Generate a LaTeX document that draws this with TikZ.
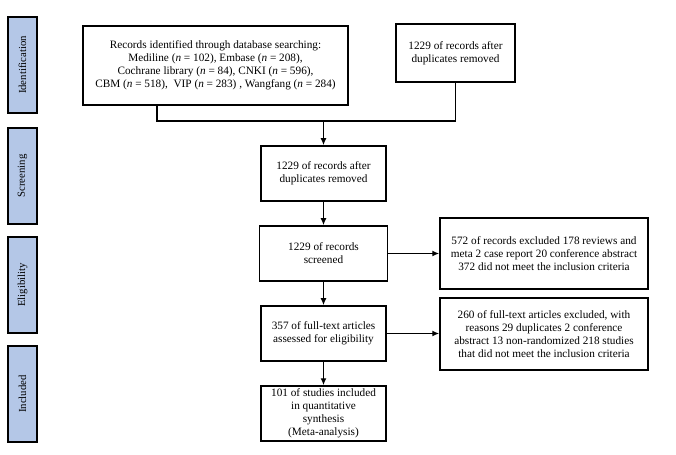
\documentclass[tikz,border=0pt]{standalone}
\usepackage{fontspec}
\setmainfont{Liberation Serif}
\usetikzlibrary{arrows.meta,calc}
\definecolor{stageblue}{HTML}{B4C7E7}
\tikzset{
  box/.style={draw, line width=1.5bp, align=center, inner sep=1bp,
    font=\fontsize{11.3}{13}\selectfont},
  stage/.style={draw, line width=1.5bp, fill=stageblue, minimum width=29bp,
    minimum height=96bp, inner sep=0pt},
  stagetext/.style={rotate=90, font=\fontsize{10.8}{12}\selectfont},
  link/.style={line width=1.5bp},
  arr/.style={line width=1.5bp, -{Latex[length=7bp,width=6bp]}}
}
\begin{document}
\begin{tikzpicture}[x=1bp,y=-1bp]
\useasboundingbox (0,0) rectangle (676,455);
% stage labels
\node[stage] (sid) at (22.5,65) {};
\node[stagetext] (tid) at (sid.center) {Identification};
\node[stage] (ssc) at (22.5,176) {};
\node[stagetext] (tsc) at (ssc.center) {Screening};
\node[stage] (sel) at (22.5,285) {};
\node[stagetext] (tel) at (sel.center) {Eligibility};
\node[stage] (sin) at (22.5,394) {};
\node[stagetext] (tin) at (sin.center) {Included};
% boxes
\node[box, minimum width=265bp, minimum height=79bp] (b1) at (215.5,65.5)
  {Records identified through database searching:\\
   Mediline (\textit{n} = 102), Embase (\textit{n} = 208),\\
   Cochrane library (\textit{n} = 84), CNKI (\textit{n} = 596),\\
   CBM (\textit{n} = 518),\ \ VIP (\textit{n} = 283) , Wangfang (\textit{n} = 284)};
\node[box, minimum width=119bp, minimum height=58bp] (b2) at (455.5,53)
  {1229 of records after\\duplicates removed};
\node[box, minimum width=125bp, minimum height=55bp] (scr) at (323.5,173.5)
  {1229 of records after\\duplicates removed};
\node[box, minimum width=128bp, minimum height=55bp] (sd) at (323.5,253.5)
  {1229 of records\\screened};
\node[box, minimum width=125bp, minimum height=55bp] (ft) at (323.5,333.5)
  {357 of full-text articles\\assessed for eligibility};
\node[box, minimum width=125bp, minimum height=55bp] (inc) at (323.5,413.5)
  {101 of studies included\\in quantitative\\synthesis\\(Meta-analysis)};
\node[box, minimum width=208bp, minimum height=71bp] (ex1) at (544,253.5)
  {572 of records excluded 178 reviews and\\meta 2 case report 20 conference abstract\\372 did not meet the inclusion criteria};
\node[box, minimum width=208bp, minimum height=72bp] (ex2) at (544,334)
  {260 of full-text articles excluded, with\\reasons 29 duplicates 2 conference\\abstract 13 non-randomized 218 studies\\that did not meet the inclusion criteria};
% connectors
\coordinate (j) at (323.5,121);
\coordinate (p1) at ($(b1.south west)!0.28!(b1.south east)$);
\draw[link] (p1) |- (j) -| (b2.south);
\draw[arr] (j) -- (scr.north);
\draw[arr] (scr.south) -- (sd.north);
\draw[arr] (sd.south) -- (ft.north);
\draw[arr] (ft.south) -- (inc.north);
\draw[arr] (sd.east) -- (ex1.west);
\draw[arr] (ft.east) -- (ft.east -| ex2.west);
\end{tikzpicture}
\end{document}
